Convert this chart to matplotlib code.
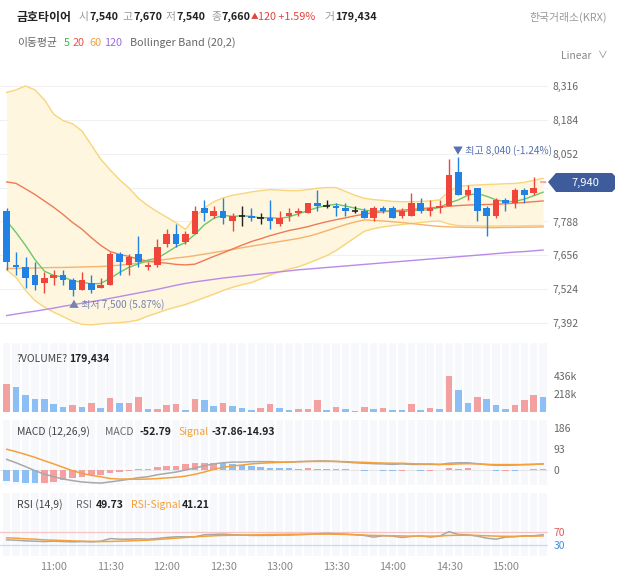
import matplotlib
matplotlib.use("Agg")
import matplotlib.pyplot as plt
from matplotlib.patches import Polygon
import numpy as np

plt.rcParams['font.family'] = ['Noto Sans CJK KR', 'DejaVu Sans']

W, H = 627, 576

# 5분봉 10:35 ~ 15:20
time_labels = ["11:00", "11:30", "12:00", "12:30", "13:00", "13:30", "14:00", "14:30", "15:00"]
time_idx = [5, 11, 17, 23, 29, 35, 41, 47, 53]

opens = [7830, 7620, 7610, 7580, 7550, 7570, 7580, 7560, 7520, 7550,
         7530, 7540, 7660, 7620, 7660, 7610, 7620, 7700, 7740, 7710,
         7740, 7840, 7810, 7830, 7790, 7810, 7810, 7800, 7800, 7780,
         7810, 7820, 7820, 7860, 7850, 7850, 7840, 7830, 7830, 7800,
         7840, 7840, 7810, 7810, 7860, 7830, 7840, 7850, 7980, 7890,
         7920, 7840, 7810, 7870, 7860, 7910, 7900, 7940]
highs = [7840, 7670, 7650, 7630, 7590, 7600, 7600, 7570, 7590, 7580,
         7570, 7670, 7670, 7660, 7730, 7630, 7720, 7760, 7780, 7750,
         7850, 7870, 7850, 7880, 7820, 7850, 7840, 7820, 7870, 7830,
         7840, 7840, 7860, 7910, 7870, 7860, 7860, 7850, 7840, 7850,
         7850, 7850, 7840, 7900, 7880, 7870, 7870, 8030, 8040, 7930,
         7920, 7850, 7880, 7880, 7920, 7920, 7960, 7940]
lows = [7600, 7580, 7530, 7520, 7510, 7540, 7540, 7500, 7520, 7510,
        7530, 7540, 7580, 7580, 7610, 7600, 7610, 7690, 7690, 7700,
        7740, 7790, 7800, 7780, 7750, 7770, 7790, 7780, 7760, 7770,
        7790, 7810, 7820, 7830, 7840, 7810, 7810, 7820, 7800, 7790,
        7820, 7800, 7800, 7810, 7820, 7810, 7820, 7850, 7890, 7870,
        7790, 7730, 7800, 7830, 7840, 7860, 7890, 7940]
closes = [7630, 7610, 7570, 7540, 7570, 7580, 7560, 7520, 7560, 7520,
          7540, 7660, 7630, 7650, 7630, 7620, 7690, 7740, 7700, 7740,
          7830, 7820, 7830, 7800, 7810, 7810, 7800, 7800, 7790, 7800,
          7820, 7830, 7860, 7850, 7850, 7840, 7830, 7830, 7800, 7840,
          7830, 7800, 7830, 7860, 7830, 7840, 7850, 7970, 7890, 7910,
          7830, 7810, 7870, 7860, 7910, 7890, 7920, 7940]

volumes = [335000, 303000, 202000, 162000, 161000, 93000, 61000, 81000, 60000, 105000,
           48000, 174000, 113000, 114000, 182000, 36000, 37000, 81000, 101000, 28000,
           158000, 150000, 73000, 113000, 73000, 53000, 28000, 48000, 93000, 48000,
           28000, 32000, 40000, 150000, 28000, 61000, 40000, 16000, 61000, 40000,
           53000, 28000, 20000, 93000, 28000, 53000, 40000, 432000, 263000, 113000,
           182000, 162000, 81000, 40000, 81000, 141000, 202000, 179434]

ma5 = [7790, 7745, 7695, 7640, 7595, 7578, 7572, 7558, 7552, 7545,
       7547, 7567, 7590, 7610, 7623, 7638, 7645, 7667, 7690, 7706,
       7738, 7775, 7800, 7812, 7808, 7810, 7808, 7802, 7803, 7800,
       7806, 7818, 7830, 7842, 7850, 7855, 7848, 7840, 7832, 7828,
       7829, 7827, 7826, 7830, 7832, 7834, 7843, 7860, 7872, 7890,
       7897, 7886, 7872, 7865, 7866, 7875, 7888, 7902]
ma20 = [7942, 7936, 7915, 7893, 7868, 7843, 7815, 7784, 7758, 7725,
        7695, 7671, 7660, 7652, 7641, 7634, 7629, 7626, 7621, 7619,
        7622, 7637, 7652, 7666, 7681, 7696, 7710, 7721, 7733, 7743,
        7753, 7760, 7768, 7778, 7787, 7795, 7802, 7810, 7817, 7822,
        7826, 7829, 7832, 7835, 7838, 7841, 7844, 7847, 7850, 7852,
        7853, 7854, 7855, 7857, 7859, 7862, 7865, 7868]
ma60 = [7605, 7606, 7606, 7607, 7608, 7609, 7609, 7610, 7611, 7612,
        7613, 7615, 7618, 7622, 7626, 7631, 7636, 7641, 7646, 7650,
        7655, 7661, 7667, 7673, 7679, 7686, 7692, 7698, 7704, 7710,
        7716, 7722, 7730, 7740, 7752, 7764, 7776, 7786, 7794, 7792,
        7790, 7787, 7784, 7780, 7776, 7772, 7769, 7767, 7766, 7765,
        7765, 7764, 7764, 7765, 7765, 7766, 7766, 7767]
ma120 = [7422, 7428, 7434, 7439, 7445, 7451, 7458, 7464, 7470, 7476,
         7482, 7489, 7496, 7503, 7510, 7517, 7524, 7532, 7540, 7547,
         7553, 7558, 7563, 7568, 7572, 7576, 7580, 7584, 7588, 7592,
         7596, 7600, 7603, 7606, 7609, 7612, 7615, 7618, 7621, 7624,
         7627, 7630, 7633, 7636, 7639, 7642, 7645, 7648, 7651, 7654,
         7657, 7660, 7663, 7666, 7669, 7671, 7674, 7677]
bb_upper = [8290, 8300, 8315, 8300, 8262, 8205, 8180, 8168, 8140, 8085,
            8030, 7988, 7950, 7918, 7878, 7850, 7826, 7805, 7783, 7757,
            7805, 7840, 7865, 7880, 7890, 7896, 7903, 7908, 7912, 7910,
            7908, 7908, 7912, 7917, 7920, 7920, 7905, 7890, 7878, 7873,
            7870, 7866, 7865, 7865, 7866, 7868, 7872, 7905, 7925, 7928,
            7930, 7932, 7933, 7935, 7936, 7940, 7948, 7956]
bb_lower = [7600, 7570, 7520, 7480, 7455, 7435, 7418, 7400, 7388, 7386,
            7390, 7392, 7395, 7398, 7405, 7420, 7432, 7445, 7455, 7465,
            7478, 7492, 7505, 7520, 7532, 7542, 7550, 7565, 7580, 7592,
            7603, 7612, 7625, 7640, 7655, 7675, 7700, 7725, 7750, 7760,
            7767, 7772, 7776, 7780, 7784, 7788, 7790, 7778, 7772, 7771,
            7771, 7770, 7770, 7771, 7771, 7771, 7772, 7772]

macd = [47, 32, 15, -3, -18, -30, -40, -47, -53, -56,
        -58, -52.79, -47, -41, -34, -30, -21, -15, -9, 0,
        9, 19, 27, 32, 35, 35, 37, 37, 37, 35,
        35, 37, 38, 40, 40, 38, 35, 32, 30, 28,
        27, 25, 27, 25, 25, 25, 24, 30, 32, 32,
        28, 24, 21, 21, 22, 24, 25, 27]
signal = [92, 81, 69, 56, 41, 27, 12, -3, -15, -24,
          -30, -37.86, -40, -40, -41, -40, -38, -35, -32, -27,
          -19, -9, 3, 12, 18, 22, 27, 30, 32, 34,
          35, 37, 38, 38, 38, 38, 37, 35, 34, 32,
          31, 30, 30, 28, 27, 27, 25, 25, 27, 28,
          27, 25, 24, 24, 24, 24, 25, 27]
hist = [-47, -52, -56, -59, -56, -52, -44, -34, -30, -24,
        -20, -14.93, -9, -4, 3, 4.5, 12, 18, 19, 25,
        29.5, 32, 33, 29.5, 25, 22, 18, 15, 10, 7.5,
        7, 6, 7.5, 6, 5, 4.5, 4, 0, -5, 0,
        -5, -5.5, -4.5, 0, -5, -4, 0, 7, 6, 7,
        0, 0, -5, -4, -5, 0, 4, 5]

rsi = [46, 45, 43, 42, 41, 42, 41, 40, 41, 40,
       42, 49.73, 48, 48, 49, 48, 50, 53, 55, 55,
       55, 61, 62, 63, 61, 60, 59, 59, 59, 60,
       60, 61, 62, 64, 65, 64, 63, 61, 59, 54,
       58, 57, 53, 56, 58, 54, 57, 70, 62, 61,
       57, 51, 48, 54, 55, 58, 58, 61]
rsi_signal = [52, 51, 49, 48, 46, 45, 44, 43, 42, 41.5,
              41, 41.21, 42, 43, 44, 45, 47, 49, 51, 53,
              55, 56.5, 58, 59, 59.5, 60, 60.5, 61, 61.5, 62,
              62.5, 62.5, 63, 63, 63, 62.5, 62, 61, 60, 59,
              58.5, 58, 57.5, 57, 57, 57, 57, 59, 59.5, 59.5,
              59, 58, 57, 56.5, 56.5, 57, 57, 57.5]

price_ticks = [7392, 7524, 7656, 7788, 7920, 8052, 8184, 8316]
last_price = 7940

UP = '#f0453a'
DOWN = '#1f82e4'
UP_L = '#f2a0a0'
DOWN_L = '#8cc0f4'

n = len(closes)
x = np.arange(n)
XLIM = (-0.71, 57.52)

fig = plt.figure(figsize=(W / 100, H / 100), dpi=100)


def add_ax(top, bottom):
    a = fig.add_axes([0, 1 - bottom / H, 548 / W, (bottom - top) / H])
    a.set_xlim(*XLIM)
    for s in a.spines.values():
        s.set_visible(False)
    a.tick_params(axis='both', length=0, labelsize=7.5, labelcolor='#666666')
    a.yaxis.tick_right()
    a.set_xticks([])
    return a


def ftext(px, py, s, color='#222222', size=7.8, weight='normal', ha='left'):
    fig.text(px / W, 1 - py / H, s, color=color, fontsize=size, fontweight=weight,
             ha=ha, va='center')


def stripes(a, lo, hi):
    # 보조지표 영역의 옅은 세로 줄무늬
    a.bar(x, hi - lo, bottom=lo, width=0.8, color='#f6f8fb', zorder=0)


# ---- 가격 차트
ax = add_ax(68, 340)
ax.set_ylim(7327, 8385)
for p in price_ticks:
    ax.axhline(p, color='#f0f0f0', lw=0.8, zorder=0)
shown = [p for p in price_ticks if p != 7920]
ax.set_yticks(shown)
ax.set_yticklabels([f"{p:,}" for p in shown])
ax.tick_params(axis='y', pad=3)

ax.fill_between(x, bb_lower, bb_upper, color='#fef6df', zorder=1, lw=0)
ax.plot(x, bb_upper, color='#f8d57a', lw=1, zorder=2)
ax.plot(x, bb_lower, color='#f8d57a', lw=1, zorder=2)
ax.plot(x, ma120, color='#b98ae8', lw=1, zorder=3)
ax.plot(x, ma60, color='#f6b26e', lw=1, zorder=3)
ax.plot(x, ma20, color='#f07a55', lw=1, zorder=3)
ax.plot(x, ma5, color='#6cc86a', lw=1, zorder=3)

for i in range(n):
    o, h, l, c = opens[i], highs[i], lows[i], closes[i]
    if i == n - 1:
        col = '#f4a3a3'
    elif c > o:
        col = UP
    elif c < o:
        col = DOWN
    else:
        col = '#222222'
    if h > l:
        ax.vlines(i, l, h, color=col, lw=1, zorder=4)
    if c != o:
        ax.bar(i, abs(c - o), bottom=min(o, c), width=0.7, color=col, zorder=5)
    else:
        ax.hlines(c, i - 0.35, i + 0.35, color=col, lw=1.2, zorder=5)

ax.hlines(last_price, n - 1, XLIM[1] + 0.3, colors='#f4a3a3', lw=1,
          linestyles=(0, (2, 2)), zorder=4, clip_on=False)

i_lo = int(np.argmin(lows))
i_hi = int(np.argmax(highs))
ax.annotate(f"▲ 최저 {min(lows):,} (5.87%)", xy=(i_lo, min(lows)), xytext=(-4, -9),
            textcoords='offset pixels', ha='left', va='center', fontsize=7.2,
            color='#7484ad', zorder=6)
ax.annotate(f"▼ 최고 {max(highs):,} (-1.24%)", xy=(i_hi, max(highs)), xytext=(-5, 6),
            textcoords='offset pixels', ha='left', va='center', fontsize=7.2,
            color='#5670b0', zorder=6)

# 현재가 태그
pts = [(548, 182), (556, 173), (612, 173), (615, 176), (615, 189), (612, 192), (556, 192)]
fig.patches.append(Polygon([(px / W, 1 - py / H) for px, py in pts], closed=True,
                           transform=fig.transFigure, facecolor='#3e5b9b', edgecolor='none'))
ftext(585, 182.5, f"{last_price:,}", color='white', size=8, ha='center')

# ---- 거래량
axv = add_ax(343, 412)
axv.set_ylim(0, 835000)
stripes(axv, 0, 835000)
vcol = [UP_L] + [UP_L if volumes[i] > volumes[i - 1] else DOWN_L for i in range(1, n)]
axv.bar(x, volumes, width=0.7, color=vcol, zorder=2)
axv.set_yticks([218000, 436000])
axv.set_yticklabels(['218k', '436k'])
axv.tick_params(axis='y', pad=4)

# ---- MACD
axm = add_ax(420, 485)
axm.set_ylim(-66.4, 221.5)
stripes(axm, -66.4, 221.5)
axm.axhline(0, color='#e6e6e6', lw=0.8, zorder=1)
hcol = [DOWN_L] + [UP_L if hist[i] > hist[i - 1] else DOWN_L for i in range(1, n)]
axm.bar(x, hist, width=0.7, color=hcol, zorder=2)
axm.plot(x, macd, color='#a8a8a8', lw=1.1, zorder=3)
axm.plot(x, signal, color='#f4a13c', lw=1.1, zorder=3)
axm.set_yticks([0, 93, 186])
axm.tick_params(axis='y', pad=4)

# ---- RSI
axr = add_ax(493, 556)
axr.set_ylim(-1.5, 183.8)
stripes(axr, -1.5, 183.8)
axr.axhline(70, color='#f6c6c6', lw=0.9, zorder=1)
axr.axhline(30, color='#c4dcf6', lw=0.9, zorder=1)
axr.plot(x, rsi, color='#a8a8a8', lw=1.1, zorder=3)
axr.plot(x, rsi_signal, color='#f4a13c', lw=1.1, zorder=3)
axr.set_yticks([30, 70])
axr.set_yticklabels(['30', '70'])
axr.tick_params(axis='y', pad=4)
axr.get_yticklabels()[0].set_color('#3d8ee0')
axr.get_yticklabels()[1].set_color('#e05a5a')
axr.set_xticks(time_idx)
axr.set_xticklabels(time_labels)
axr.tick_params(axis='x', pad=4, labelcolor='#888888', labelsize=7.8)

# ---- 헤더
ftext(17, 17, "금호타이어", size=8.6, weight='bold')
ftext(79, 17, "시", color='#999999')
ftext(90, 17, "7,540", weight='bold')
ftext(122, 17, "고", color='#999999')
ftext(134, 17, "7,670", weight='bold')
ftext(166, 17, "저", color='#999999')
ftext(177, 17, "7,540", weight='bold')
ftext(211, 17, "종", color='#999999')
ftext(222, 17, "7,660", weight='bold')
ftext(251, 17, "▲", color='#e8413b', size=5.5)
ftext(258, 17, "120 +1.59%", color='#e8413b')
ftext(324, 17, "거", color='#999999')
ftext(335, 17, "179,434", weight='bold')
ftext(607, 17, "한국거래소(KRX)", color='#999999', ha='right')

ftext(17, 43, "이동평균", color='#666666')
ftext(64, 43, "5", color='#3cb84a')
ftext(73, 43, "20", color='#f0504f')
ftext(89, 43, "60", color='#f0a040')
ftext(104, 43, "120", color='#9b6ae0')
ftext(130, 43, "Bollinger Band (20,2)", color='#666666')

ftext(591, 56, "Linear", color='#888888', size=7.5, ha='right')
ftext(598, 55, "∨", color='#888888', size=7)

ftext(17, 359, "?VOLUME?", color='#444444', size=7.5)
ftext(69, 359, "179,434", weight='bold', size=7.5)

ftext(17, 432, "MACD (12,26,9)", color='#444444', size=7.5)
ftext(105, 432, "MACD", color='#666666', size=7.5)
ftext(139, 432, "-52.79", weight='bold', size=7.5)
ftext(178, 432, "Signal", color='#f4a13c', size=7.5)
ftext(211, 432, "-37.86-14.93", weight='bold', size=7.5)

ftext(17, 505, "RSI (14,9)", color='#444444', size=7.5)
ftext(76, 505, "RSI", color='#666666', size=7.5)
ftext(96, 505, "49.73", weight='bold', size=7.5)
ftext(131, 505, "RSI-Signal", color='#f4a13c', size=7.5)
ftext(182, 505, "41.21", weight='bold', size=7.5)

fig.savefig("out.png", dpi=100, facecolor='white')
